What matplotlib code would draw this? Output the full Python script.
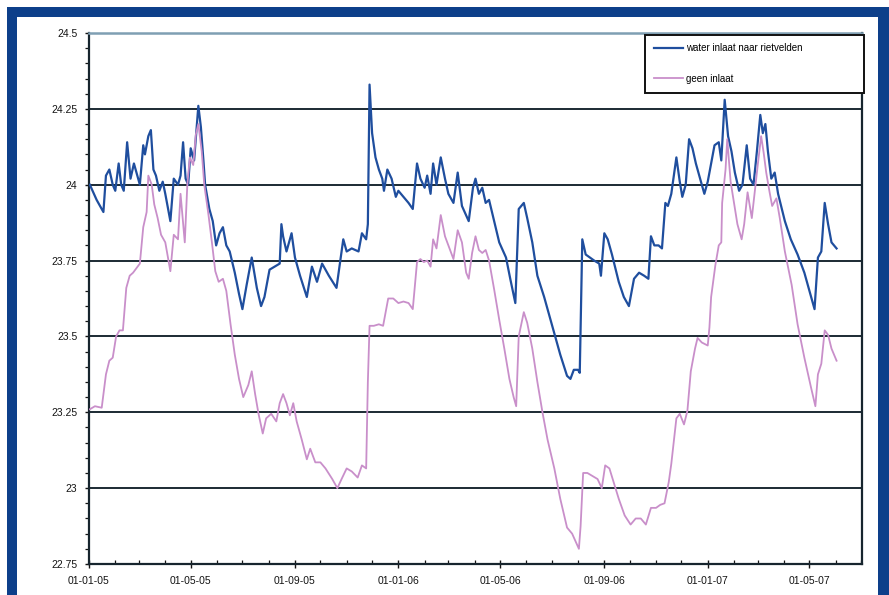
import matplotlib
matplotlib.use("Agg")
import matplotlib.pyplot as plt
import matplotlib.dates as mdates
import pandas as pd
from matplotlib.patches import Rectangle
from matplotlib.ticker import MultipleLocator, FixedLocator, FixedFormatter

plt.rcParams['font.family'] = ['Liberation Sans', 'DejaVu Sans']

# ---------------- data (day offsets from 2005-01-01, temperature) ----------------
start_date = "2005-01-01"
end_date = "2007-07-02"

blue_label = "water inlaat naar rietvelden"
blue_days = [1, 9, 17, 20, 24, 28, 31, 35, 38, 41, 45, 49, 53, 56, 60, 64, 66, 70, 73, 76,
             79, 83, 87, 90, 96, 100, 105, 108, 111, 114, 117, 120, 124, 127, 129, 132, 135, 137, 142, 146,
             150, 154, 158, 162, 166, 172, 177, 181, 186, 192, 198, 203, 207, 213, 219, 225, 227,
             229, 233, 239, 243, 249, 257, 263, 269, 275, 283, 292, 300, 304, 310, 318, 322, 327, 329, 331, 334,
             338, 342, 346, 348, 352, 357, 362, 365, 371, 377, 382, 387, 391, 396, 399, 403, 406, 410, 415, 420,
             424, 430, 435, 440, 448, 453, 456,
             460, 464, 468, 472, 478, 484, 492, 497, 503, 507, 510, 513, 517, 523, 529, 537, 547, 556, 564, 568,
             572, 577, 579, 582, 586, 591, 596, 602, 604, 608, 612, 617, 625, 631, 637, 643, 649, 655, 660, 663,
             667, 672, 676, 680,
             683, 687, 693, 697, 700, 704, 708, 712, 716, 720, 726, 730, 734, 738, 743, 746, 750, 754, 758, 762,
             767, 771, 776, 780, 784, 788, 792, 795, 798, 801, 805, 809, 813, 821, 828, 836, 844, 852, 856, 860,
             864, 868, 872, 876, 882]
blue_vals = [24.00, 23.95, 23.91, 24.03, 24.05, 24.00, 23.98, 24.07, 24.00, 23.98, 24.14, 24.02, 24.07, 24.04, 24.00, 24.13, 24.10, 24.16, 24.18, 24.05,
             24.03, 23.98, 24.01, 23.97, 23.88, 24.02, 24.00, 24.03, 24.14, 24.02, 24.00, 24.12, 24.08, 24.19, 24.26, 24.19, 24.08, 24.00, 23.92, 23.88,
             23.80, 23.84, 23.86, 23.80, 23.78, 23.71, 23.64, 23.59, 23.67, 23.76, 23.66, 23.60, 23.63, 23.72, 23.73, 23.74, 23.87,
             23.83, 23.78, 23.84, 23.76, 23.70, 23.63, 23.73, 23.68, 23.74, 23.70, 23.66, 23.82, 23.78, 23.79, 23.78, 23.84, 23.82, 23.87, 24.33, 24.17,
             24.09, 24.05, 24.02, 23.98, 24.05, 24.02, 23.96, 23.98, 23.96, 23.94, 23.92, 24.07, 24.02, 23.99, 24.03, 23.97, 24.07, 24.00, 24.09, 24.02,
             23.97, 23.94, 24.04, 23.93, 23.88, 23.99, 24.02,
             23.97, 23.99, 23.94, 23.95, 23.88, 23.81, 23.76, 23.69, 23.61, 23.92, 23.93, 23.94, 23.89, 23.81, 23.70, 23.63, 23.53, 23.44, 23.37, 23.36,
             23.39, 23.39, 23.38, 23.82, 23.77, 23.76, 23.75, 23.74, 23.70, 23.84, 23.82, 23.77, 23.68, 23.63, 23.60, 23.69, 23.71, 23.70, 23.69, 23.83,
             23.80, 23.80, 23.79, 23.94,
             23.93, 23.97, 24.09, 24.01, 23.96, 24.00, 24.15, 24.12, 24.07, 24.03, 23.97, 24.01, 24.07, 24.13, 24.14, 24.08, 24.28, 24.16, 24.11, 24.04,
             23.98, 24.00, 24.13, 24.02, 24.00, 24.11, 24.23, 24.17, 24.20, 24.11, 24.02, 24.04, 23.97, 23.88, 23.82, 23.77, 23.71, 23.63, 23.59, 23.76,
             23.78, 23.94, 23.87, 23.81, 23.79]

pink_label = "geen inlaat"
pink_days = [1, 7, 15, 20, 24, 28, 32, 36, 40, 44, 48, 52, 56, 60, 64, 68, 70, 74, 77, 81,
             85, 90, 96, 100, 105, 108, 113, 116, 119, 123, 126, 129, 133, 136, 141, 145, 149, 153, 158, 162,
             167, 172, 177, 182, 188, 192, 196, 200, 205, 209, 215, 221, 225, 229,
             233, 237, 241, 245, 251, 257, 261, 267, 273, 279, 287, 293, 298, 304, 310, 317, 322, 327, 329, 331,
             336, 342, 347, 353, 359, 365, 371, 377, 382, 387, 391, 395, 399, 403, 406, 410, 415, 420, 424, 430,
             435, 440, 445, 448,
             452, 456, 460, 464, 468, 472, 478, 484, 490, 496, 501, 504, 507, 513, 517, 523, 529, 535, 541, 549,
             556, 564, 570, 574, 578, 580, 583, 588, 594, 600, 605, 609, 614, 619, 625, 632, 639, 645, 651, 657,
             663, 669, 674,
             679, 684, 687, 693, 697, 702, 706, 710, 715, 718, 723, 730, 732, 734, 739, 743, 746, 747, 751, 753,
             757, 761, 765, 770, 773, 777, 782, 785, 789, 793, 796, 799, 803, 806, 811, 815, 821, 829, 836, 844,
             852, 857, 860, 864, 868, 872, 876, 882]
pink_vals = [23.26, 23.27, 23.265, 23.375, 23.42, 23.43, 23.50, 23.52, 23.52, 23.66, 23.70, 23.71, 23.725, 23.74, 23.86, 23.91, 24.03, 24.00, 23.935, 23.89,
             23.835, 23.81, 23.715, 23.835, 23.82, 23.97, 23.81, 24.00, 24.09, 24.065, 24.165, 24.20, 24.11, 24.00, 23.90, 23.81, 23.715, 23.68, 23.69, 23.65,
             23.54, 23.44, 23.36, 23.30, 23.34, 23.385, 23.31, 23.245, 23.18, 23.23, 23.245, 23.22, 23.28, 23.31,
             23.28, 23.24, 23.28, 23.22, 23.16, 23.095, 23.13, 23.085, 23.085, 23.065, 23.03, 23.00, 23.03, 23.065, 23.055, 23.035, 23.075, 23.065, 23.35, 23.535,
             23.535, 23.54, 23.535, 23.625, 23.625, 23.61, 23.615, 23.61, 23.59, 23.745, 23.755, 23.745, 23.75, 23.73, 23.82, 23.79, 23.90, 23.83, 23.80, 23.755,
             23.85, 23.81, 23.71, 23.69,
             23.775, 23.83, 23.785, 23.775, 23.785, 23.75, 23.655, 23.555, 23.46, 23.36, 23.30, 23.27, 23.50, 23.58, 23.545, 23.46, 23.35, 23.25, 23.16, 23.065,
             22.965, 22.87, 22.85, 22.825, 22.80, 22.875, 23.05, 23.05, 23.04, 23.03, 23.00, 23.075, 23.065, 23.02, 22.965, 22.91, 22.88, 22.90, 22.90, 22.88,
             22.935, 22.935, 22.945,
             22.95, 23.02, 23.08, 23.23, 23.245, 23.21, 23.255, 23.385, 23.46, 23.495, 23.48, 23.47, 23.53, 23.63, 23.735, 23.80, 23.81, 23.94, 24.05, 24.15,
             24.01, 23.94, 23.87, 23.82, 23.87, 23.975, 23.89, 23.965, 24.065, 24.16, 24.105, 24.04, 23.975, 23.93, 23.955, 23.89, 23.78, 23.67, 23.54, 23.43,
             23.33, 23.27, 23.375, 23.41, 23.52, 23.505, 23.46, 23.42]

ytick_values = [22.75, 23.0, 23.25, 23.5, 23.75, 24.0, 24.25, 24.5]
ytick_labels = ["22.75", "23", "23.25", "23.5", "23.75", "24", "24.25", "24.5"]
xtick_dates = ["2005-01-01", "2005-05-01", "2005-09-01", "2006-01-01", "2006-05-01",
               "2006-09-01", "2007-01-01", "2007-05-01"]
xtick_labels = ["01-01-05", "01-05-05", "01-09-05", "01-01-06", "01-05-06",
                "01-09-06", "01-01-07", "01-05-07"]

# ---------------- figure ----------------
W, H = 889, 595
fig = plt.figure(figsize=(W / 100, H / 100), dpi=100, facecolor="white")

frame_col = "#0d3f8a"
fig.patches.append(Rectangle((7 / W, 0), 10 / W, (H - 7) / H, transform=fig.transFigure,
                             facecolor=frame_col, edgecolor="none"))
fig.patches.append(Rectangle((7 / W, 1 - 17 / H), (W - 7) / W, 10 / H, transform=fig.transFigure,
                             facecolor=frame_col, edgecolor="none"))
fig.patches.append(Rectangle((878 / W, 0), 11 / W, (H - 7) / H, transform=fig.transFigure,
                             facecolor=frame_col, edgecolor="none"))

ax = fig.add_axes([89 / W, 1 - 564 / H, (862 - 89) / W, (564 - 33) / H])
ax.set_facecolor("white")

t0 = pd.Timestamp(start_date)
blue_dates = t0 + pd.to_timedelta(blue_days, unit="D")
pink_dates = t0 + pd.to_timedelta(pink_days, unit="D")

# horizontal grid lines (excluding the top edge)
for yv in ytick_values[1:-1]:
    ax.axhline(yv, color="#1b2a33", lw=1.4, zorder=1)

ax.plot(blue_dates, blue_vals, color="#1f4e9e", lw=1.6, label=blue_label, zorder=3,
        solid_joinstyle="round")
ax.plot(pink_dates, pink_vals, color="#c98fca", lw=1.3, label=pink_label, zorder=4,
        solid_joinstyle="round")

ax.set_xlim(pd.Timestamp(start_date), pd.Timestamp(end_date))
ax.set_ylim(ytick_values[0], ytick_values[-1])

ax.yaxis.set_major_locator(FixedLocator(ytick_values))
ax.yaxis.set_major_formatter(FixedFormatter(ytick_labels))
ax.yaxis.set_minor_locator(MultipleLocator(0.05))

xt = [mdates.date2num(pd.Timestamp(d)) for d in xtick_dates]
ax.xaxis.set_major_locator(FixedLocator(xt))
ax.xaxis.set_major_formatter(FixedFormatter(xtick_labels))
ax.xaxis.set_minor_locator(mdates.MonthLocator())

tc = "#141414"
ax.tick_params(axis="y", which="major", direction="out", length=3, width=1, pad=5.5,
               labelsize=7.5, colors=tc)
ax.tick_params(axis="y", which="minor", direction="out", length=3, width=0.9, colors=tc)
ax.tick_params(axis="x", which="major", direction="inout", length=6, width=1, pad=6,
               labelsize=7.5, colors=tc)
ax.tick_params(axis="x", which="minor", direction="in", length=3, width=0.9, colors=tc)

for side in ["left", "bottom", "right"]:
    ax.spines[side].set_color("#17252e")
    ax.spines[side].set_linewidth(1.6)
ax.spines["top"].set_color("#7f9fb3")
ax.spines["top"].set_linewidth(1.8)

leg = ax.legend(loc="upper left", bbox_to_anchor=(0.719, 0.893, 0.283, 0.104), mode="expand",
                frameon=True, fancybox=False, framealpha=1, edgecolor="#111111",
                fontsize=7.0, handlelength=3.0, labelspacing=2.1, borderpad=0.9,
                handletextpad=0.3, borderaxespad=0)
leg.get_frame().set_linewidth(1.4)
leg.set_zorder(10)

fig.savefig("out.png", dpi=100, facecolor="white")
